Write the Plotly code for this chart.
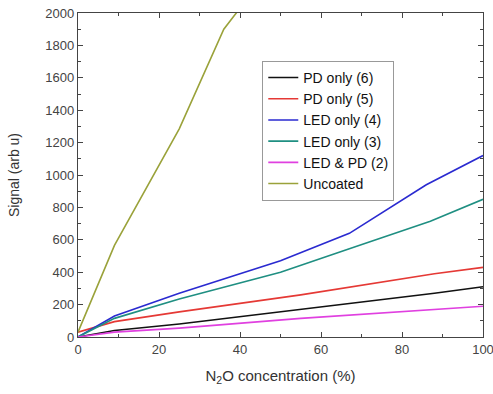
import plotly.graph_objects as go

x_pd6 = [0, 9, 25, 50, 88, 100]
y_pd6 = [0, 40, 80, 155, 270, 310]

x_pd5 = [0, 9, 25, 55, 88, 100]
y_pd5 = [30, 95, 155, 260, 390, 430]

x_led4 = [0, 9, 25, 50, 67, 86, 100]
y_led4 = [0, 130, 270, 470, 640, 940, 1120]

x_led3 = [0, 9, 25, 50, 67, 87, 100]
y_led3 = [0, 115, 235, 400, 545, 715, 850]

x_ledpd2 = [0, 9, 25, 55, 100]
y_ledpd2 = [0, 30, 55, 115, 190]

x_unc = [0, 9, 25, 36, 40]
y_unc = [30, 565, 1285, 1900, 2030]

names = ["PD only (6)", "PD only (5)", "LED only (4)", "LED only (3)", "LED & PD (2)", "Uncoated"]
colors = ["#111111", "#e53935", "#2a2ad0", "#1f8f82", "#e040e0", "#9aa23a"]
series = [(x_pd6, y_pd6), (x_pd5, y_pd5), (x_led4, y_led4), (x_led3, y_led3),
          (x_ledpd2, y_ledpd2), (x_unc, y_unc)]

fig = go.Figure()
for (xs, ys), n, c in zip(series, names, colors):
    fig.add_trace(go.Scatter(x=xs, y=ys, mode="lines", name=n,
                             line=dict(color=c, width=1.6)))

axis_common = dict(showline=True, linecolor="#444444", linewidth=1.3, mirror="allticks",
                   ticks="inside", ticklen=5, tickcolor="#444444", tickwidth=1,
                   showgrid=False, automargin=False, ticklabeloverflow="allow",
                   zeroline=False, tickfont=dict(family="Liberation Sans, Arial", size=13, color="#444444"))

fig.update_xaxes(range=[0, 100], dtick=20,
                 minor=dict(dtick=10, ticks="inside", ticklen=3, tickcolor="#444444"),
                 title=dict(text="N<sub>2</sub>O concentration (%)",
                            font=dict(family="Liberation Sans, Arial", size=15, color="#333333"),
                            standoff=14),
                 **axis_common)
fig.update_yaxes(range=[0, 2000], dtick=200,
                 minor=dict(dtick=100, ticks="inside", ticklen=3, tickcolor="#444444"),
                 title=dict(text="Signal (arb u)",
                            font=dict(family="Liberation Sans, Arial", size=14, color="#333333"),
                            standoff=22),
                 **axis_common)

fig.update_layout(
    width=493, height=394,
    margin=dict(l=78, r=10, t=13, b=57),
    plot_bgcolor="white", paper_bgcolor="white",
    showlegend=True,
    legend=dict(x=0.455, y=0.852, xanchor="left", yanchor="top",
                bgcolor="white", bordercolor="#999999", borderwidth=1,
                font=dict(family="Liberation Sans, Arial", size=14, color="#111111"),
                tracegroupgap=0, itemwidth=30),
)

fig.write_html("out.html")
